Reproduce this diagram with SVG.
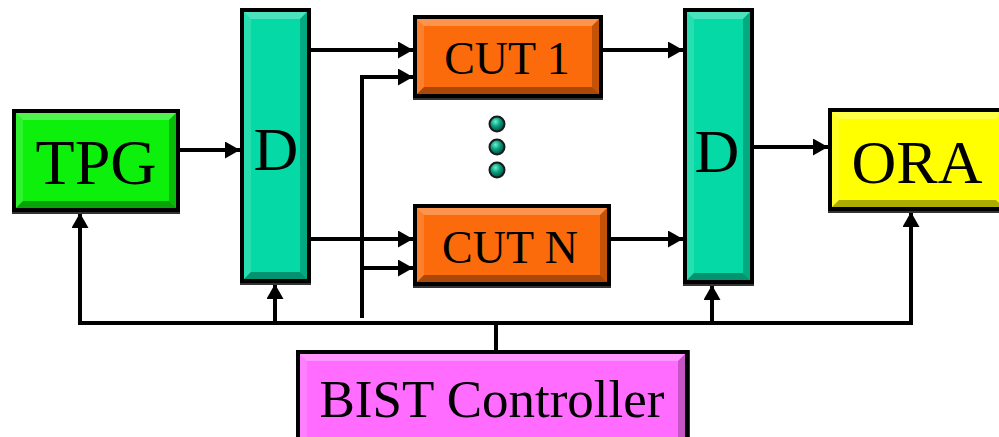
<svg xmlns="http://www.w3.org/2000/svg" width="999" height="437" viewBox="0 0 999 437">
<style>
.box{stroke:#000;stroke-width:4}
.hl{fill:#fff;opacity:.28}
.hl2{fill:#fff;opacity:.14}
.sh{fill:#000;opacity:.22}
.sh2{fill:#000;opacity:.32}
.shadow{fill:#333}
.lbl{font-family:"Liberation Serif","Times New Roman",serif;fill:#000;text-anchor:middle}
.wire{fill:none;stroke:#000;stroke-width:4}
.dot{stroke:#1a1a1a;stroke-width:2}
</style>
<defs>
<marker id="ah" markerUnits="userSpaceOnUse" markerWidth="17" markerHeight="17" refX="15" refY="8.5" orient="auto" viewBox="0 0 17 17">
<path d="M0,0 L15,8.5 L0,17 Z" fill="#000"/>
</marker>
<radialGradient id="dg" cx="0.4" cy="0.35" r="0.6">
<stop offset="0" stop-color="#6ff0cc"/>
<stop offset="0.5" stop-color="#0aa383"/>
<stop offset="1" stop-color="#05574a"/>
</radialGradient>
</defs>

<g id="connectors">
<line class="wire" x1="180" y1="150" x2="240" y2="150" marker-end="url(#ah)"/>
<line class="wire" x1="310" y1="50" x2="413" y2="50" marker-end="url(#ah)"/>
<line class="wire" x1="310" y1="239" x2="413" y2="239" marker-end="url(#ah)"/>
<polyline class="wire" points="362,318 362,77 413,77" marker-end="url(#ah)"/>
<line class="wire" x1="362" y1="268" x2="413" y2="268" marker-end="url(#ah)"/>
<line class="wire" x1="603" y1="50" x2="683" y2="50" marker-end="url(#ah)"/>
<line class="wire" x1="611" y1="239" x2="683" y2="239" marker-end="url(#ah)"/>
<line class="wire" x1="753" y1="147" x2="828" y2="147" marker-end="url(#ah)"/>
<line class="wire" x1="78" y1="323" x2="913" y2="323"/>
<line class="wire" x1="496" y1="350" x2="496" y2="323"/>
<line class="wire" x1="80" y1="323" x2="80" y2="213" marker-end="url(#ah)"/>
<line class="wire" x1="275" y1="323" x2="275" y2="284" marker-end="url(#ah)"/>
<line class="wire" x1="712" y1="323" x2="712" y2="285" marker-end="url(#ah)"/>
<line class="wire" x1="911" y1="323" x2="911" y2="212" marker-end="url(#ah)"/>
</g>

<g id="tpg">
<rect class="shadow" x="12" y="111" width="168" height="103"/>
<rect class="box" x="14" y="111" width="164" height="99" fill="#0cf00c"/>
<path class="hl" d="M16,113 H176 L169,120 H23 Z"/>
<path class="hl2" d="M16,113 L23,120 V201 L16,208 Z"/>
<path class="sh" d="M176,113 V208 L169,201 V120 Z"/>
<path class="sh2" d="M16,208 H176 L169,201 H23 Z"/>
<text class="lbl" x="96" y="184" font-size="64">TPG</text>
</g>

<g id="d1">
<rect class="shadow" x="240" y="10" width="71" height="275"/>
<rect class="box" x="242" y="10" width="67" height="271" fill="#05d9a5"/>
<path class="hl" d="M244,12 H307 L300,19 H251 Z"/>
<path class="hl2" d="M244,12 L251,19 V272 L244,279 Z"/>
<path class="sh" d="M307,12 V279 L300,272 V19 Z"/>
<path class="sh2" d="M244,279 H307 L300,272 H251 Z"/>
<text class="lbl" x="276" y="170" font-size="62">D</text>
</g>

<g id="cut1">
<rect class="shadow" x="413" y="17" width="190" height="83"/>
<rect class="box" x="415" y="17" width="186" height="79" fill="#fb6b0b"/>
<path class="hl" d="M417,19 H599 L592,26 H424 Z"/>
<path class="hl2" d="M417,19 L424,26 V87 L417,94 Z"/>
<path class="sh" d="M599,19 V94 L592,87 V26 Z"/>
<path class="sh2" d="M417,94 H599 L592,87 H424 Z"/>
<text class="lbl" x="507" y="74" font-size="46">CUT 1</text>
</g>

<g id="dots">
<circle class="dot" cx="497" cy="124" r="7.5" fill="url(#dg)"/>
<circle class="dot" cx="497" cy="147" r="7.5" fill="url(#dg)"/>
<circle class="dot" cx="497" cy="170" r="7.5" fill="url(#dg)"/>
</g>

<g id="cutn">
<rect class="shadow" x="413" y="206" width="198" height="82"/>
<rect class="box" x="415" y="206" width="194" height="78" fill="#fb6b0b"/>
<path class="hl" d="M417,208 H607 L600,215 H424 Z"/>
<path class="hl2" d="M417,208 L424,215 V275 L417,282 Z"/>
<path class="sh" d="M607,208 V282 L600,275 V215 Z"/>
<path class="sh2" d="M417,282 H607 L600,275 H424 Z"/>
<text class="lbl" x="510" y="263" font-size="46">CUT N</text>
</g>

<g id="d2">
<rect class="shadow" x="683" y="10" width="71" height="276"/>
<rect class="box" x="685" y="10" width="67" height="272" fill="#05d9a5"/>
<path class="hl" d="M687,12 H750 L743,19 H694 Z"/>
<path class="hl2" d="M687,12 L694,19 V273 L687,280 Z"/>
<path class="sh" d="M750,12 V280 L743,273 V19 Z"/>
<path class="sh2" d="M687,280 H750 L743,273 H694 Z"/>
<text class="lbl" x="717" y="172" font-size="62">D</text>
</g>

<g id="ora">
<rect class="shadow" x="828" y="110" width="175" height="103"/>
<rect class="box" x="830" y="110" width="175" height="99" fill="#ffff00"/>
<path class="hl" d="M832,112 H1003 L996,119 H839 Z"/>
<path class="hl2" d="M832,112 L839,119 V200 L832,207 Z"/>
<path class="sh2" d="M832,207 H1003 L996,200 H839 Z"/>
<text class="lbl" x="917" y="183" font-size="62">ORA</text>
</g>

<g id="bist">
<rect class="shadow" x="296" y="350" width="394" height="95"/>
<rect class="box" x="298" y="352" width="389" height="92" fill="#ff6cff"/>
<path class="hl" d="M300,354 H685 L678,361 H307 Z"/>
<path class="hl2" d="M300,354 L307,361 V437 L300,437 Z"/>
<path class="sh" d="M685,354 V437 L678,437 V361 Z"/>
<text class="lbl" x="492" y="417" font-size="53">BIST Controller</text>
</g>
</svg>
